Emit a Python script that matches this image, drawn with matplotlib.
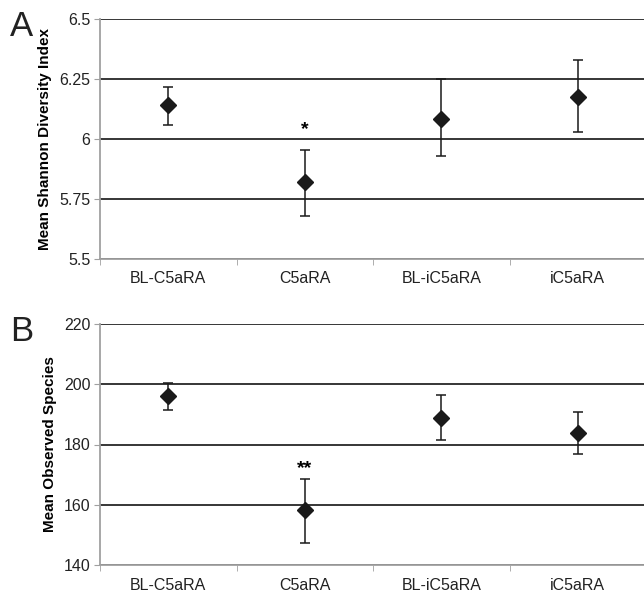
import numpy as np
import matplotlib.pyplot as plt

plt.rcParams['font.family'] = ['Liberation Sans', 'DejaVu Sans']

groups = ['BL-C5aRA', 'C5aRA', 'BL-iC5aRA', 'iC5aRA']

# panel A: Shannon diversity
shannon = [6.14, 5.82, 6.085, 6.175]
shannon_hi = [6.217, 5.955, 6.25, 6.33]
shannon_lo = [6.058, 5.68, 5.93, 6.028]

# panel B: observed species
species = [196.1, 158.2, 188.8, 183.8]
species_hi = [200.3, 168.5, 196.5, 190.8]
species_lo = [191.4, 147.3, 181.4, 176.9]

gray = '#a0a0a0'
txt = '#222222'


def panel(ax, vals, hi, lo, ylim, yticks, yticklabels, ylabel, letter, star, star_y):
    x = np.arange(len(groups))
    vals = np.array(vals)
    err = (vals - np.array(lo), np.array(hi) - vals)
    for t in yticks:
        ax.axhline(t, color='black', lw=1.1, zorder=1)
    ax.errorbar(x, vals, yerr=err, fmt='D', color='#1a1a1a', ms=8,
                ecolor='#1a1a1a', elinewidth=1.1, capsize=3.5, capthick=1.1, zorder=3)
    ax.text(1, star_y, star, ha='center', va='center', fontsize=14, fontweight='bold')
    ax.set_xlim(-0.5, 3.5)
    ax.set_ylim(*ylim)
    ax.set_yticks(yticks)
    ax.set_yticklabels(yticklabels, fontsize=11.5, color=txt)
    ax.set_xticks(x)
    ax.set_xticklabels(groups, fontsize=11.5, color=txt)
    ax.set_xticks(np.arange(-0.5, 4, 1), minor=True)
    ax.tick_params(axis='x', which='major', length=0, pad=9)
    ax.tick_params(axis='x', which='minor', length=4, color=gray, direction='out')
    ax.tick_params(axis='y', length=4, color=gray, pad=3)
    for s in ['top', 'right']:
        ax.spines[s].set_visible(False)
    for s in ['left', 'bottom']:
        ax.spines[s].set_color(gray)
        ax.spines[s].set_linewidth(1.3)
    ax.set_ylabel(ylabel, fontsize=11, fontweight='bold', labelpad=5)
    ax.text(-0.165, 0.93, letter, transform=ax.transAxes, fontsize=25,
            ha='left', va='baseline', color=txt)


fig = plt.figure(figsize=(6.44, 5.91), dpi=100)
ax1 = fig.add_axes([100 / 644, 1 - 259 / 591, 546 / 644, 240 / 591])
ax2 = fig.add_axes([100 / 644, 1 - 565 / 591, 546 / 644, 241 / 591])

panel(ax1, shannon, shannon_hi, shannon_lo, (5.5, 6.5),
      [5.5, 5.75, 6.0, 6.25, 6.5], ['5.5', '5.75', '6', '6.25', '6.5'],
      'Mean Shannon Diversity Index', 'A', '*', 6.04)
panel(ax2, species, species_hi, species_lo, (140, 220),
      [140, 160, 180, 200, 220], ['140', '160', '180', '200', '220'],
      'Mean Observed Species', 'B', '**', 172)

fig.savefig('out.png', dpi=100)
